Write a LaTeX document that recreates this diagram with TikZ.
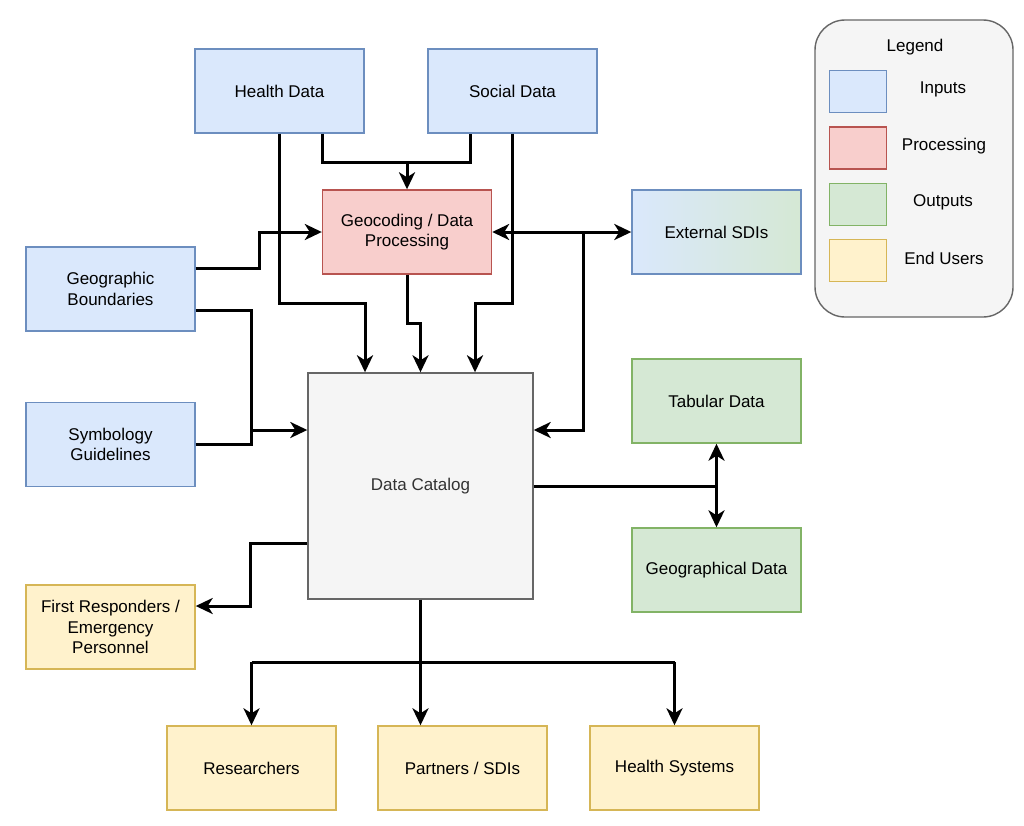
\documentclass[tikz,border=0pt]{standalone}
\usepackage{fontspec}
\setmainfont{Liberation Sans}
\usetikzlibrary{arrows.meta,calc}
\definecolor{inFill}{HTML}{DAE8FC}
\definecolor{inLine}{HTML}{6C8EBF}
\definecolor{procFill}{HTML}{F8CECC}
\definecolor{procLine}{HTML}{B85450}
\definecolor{outFill}{HTML}{D5E8D4}
\definecolor{outLine}{HTML}{82B366}
\definecolor{userFill}{HTML}{FFF2CC}
\definecolor{userLine}{HTML}{D6B656}
\definecolor{catFill}{HTML}{F5F5F5}
\definecolor{catLine}{HTML}{666666}
\definecolor{catText}{HTML}{333333}
\tikzstyle{box} = [draw, line width=1.4pt, minimum width=169pt, minimum height=84pt, align=center, inner sep=2pt]
\tikzstyle{input} = [box, fill=inFill, draw=inLine]
\tikzstyle{process} = [box, fill=procFill, draw=procLine]
\tikzstyle{output} = [box, fill=outFill, draw=outLine]
\tikzstyle{user} = [box, fill=userFill, draw=userLine]
\tikzstyle{swatch} = [minimum width=57pt, minimum height=42pt]
\tikzstyle{line} = [draw, line width=3pt]
\tikzstyle{arrow} = [line, -{Stealth[length=17pt,width=16pt,inset=5pt]}]
\tikzstyle{twoway} = [line, {Stealth[length=17pt,width=16pt,inset=5pt]}-{Stealth[length=17pt,width=16pt,inset=5pt]}]

\begin{document}
\begin{tikzpicture}[x=1pt, y=-1pt, font=\fontsize{17}{20.5}\selectfont]
      \useasboundingbox (0,0) rectangle (1024,825);

      \node[input] (health) at (279.5,91) {Health Data};
      \node[input] (social) at (512.5,91) {Social Data};
      \node[process] (geo) at (407,232) {Geocoding / Data\\Processing};
      \node[box, draw=inLine, left color=inFill, right color=outFill] (ext) at (716.5,232) {External SDIs};
      \node[input] (bound) at (110.5,289) {Geographic\\Boundaries};
      \node[input] (symb) at (110.5,444.5) {Symbology\\Guidelines};
      \node[box, fill=catFill, draw=catLine, text=catText, minimum width=225pt, minimum height=226pt] (cat) at (420.5,486) {Data Catalog};
      \node[output] (tab) at (716.5,401) {Tabular Data};
      \node[output] (geog) at (716.5,570) {Geographical Data};
      \node[user] (first) at (110.5,627) {First Responders /\\Emergency\\Personnel};
      \node[user] (res) at (251.5,768) {Researchers};
      \node[user] (part) at (462.5,768) {Partners / SDIs};
      \node[user] (hsys) at (674.5,768) {Health Systems};

      \node[draw=catLine, fill=catFill, line width=1.4pt, rounded corners=30pt, minimum width=198pt, minimum height=297pt] (legend) at (914,168.5) {};
      \node (legtitle) at (915,47) {Legend};
      \node[input, swatch] (kin) at (858,91.5) {};
      \node[process, swatch] (kproc) at (858,148) {};
      \node[output, swatch] (kout) at (858,204.5) {};
      \node[user, swatch] (kuser) at (858,260.5) {};
      \node (lin) at (943,89) {Inputs};
      \node (lproc) at (944,146) {Processing};
      \node (lout) at (943,202) {Outputs};
      \node (luser) at (944,258) {End Users};

      \coordinate (hs) at (407,162);
      \coordinate (cin) at (251,430);
      \coordinate (cext) at (583,232);
      \coordinate (bus) at (420.5,662);

      \draw[line] ([xshift=42.5pt]health.south) |- (hs) -| ([xshift=-42.5pt]social.south);
      \draw[arrow] (hs) -- (geo);
      \draw[arrow] (health.south) -- ++(0,170) -| ([xshift=-55.5pt]cat.north);
      \draw[arrow] (social.south) -- ++(0,170) -| ([xshift=54.5pt]cat.north);
      \draw[arrow] (geo.south) -- ++(0,49) -| (cat.north);

      \draw[arrow] ([yshift=21pt]bound.east) -- ++(64,0) |- (geo.west);
      \draw[line] ([yshift=-21pt]bound.east) -| (cin);
      \draw[line] (symb.east) -| (cin);
      \draw[arrow] (cin) -- (cin -| cat.west);

      \draw[twoway] (geo.east) -- (ext.west);
      \draw[arrow] (cext) |- ([yshift=56pt]cat.east);

      \draw[line] (cat.east) -- (cat.east -| tab.south);
      \draw[twoway] (tab.south) -- (geog.north);

      \draw[arrow] ([yshift=-57pt]cat.west) -- ++(-57,0) |- ([yshift=21pt]first.east);

      \draw[arrow] (cat.south) -- (cat.south |- part.north);
      \draw[line] (res.north |- bus) -- (hsys.north |- bus);
      \draw[arrow] (res.north |- bus) -- (res.north);
      \draw[arrow] (hsys.north |- bus) -- (hsys.north);
    \end{tikzpicture}
\end{document}
